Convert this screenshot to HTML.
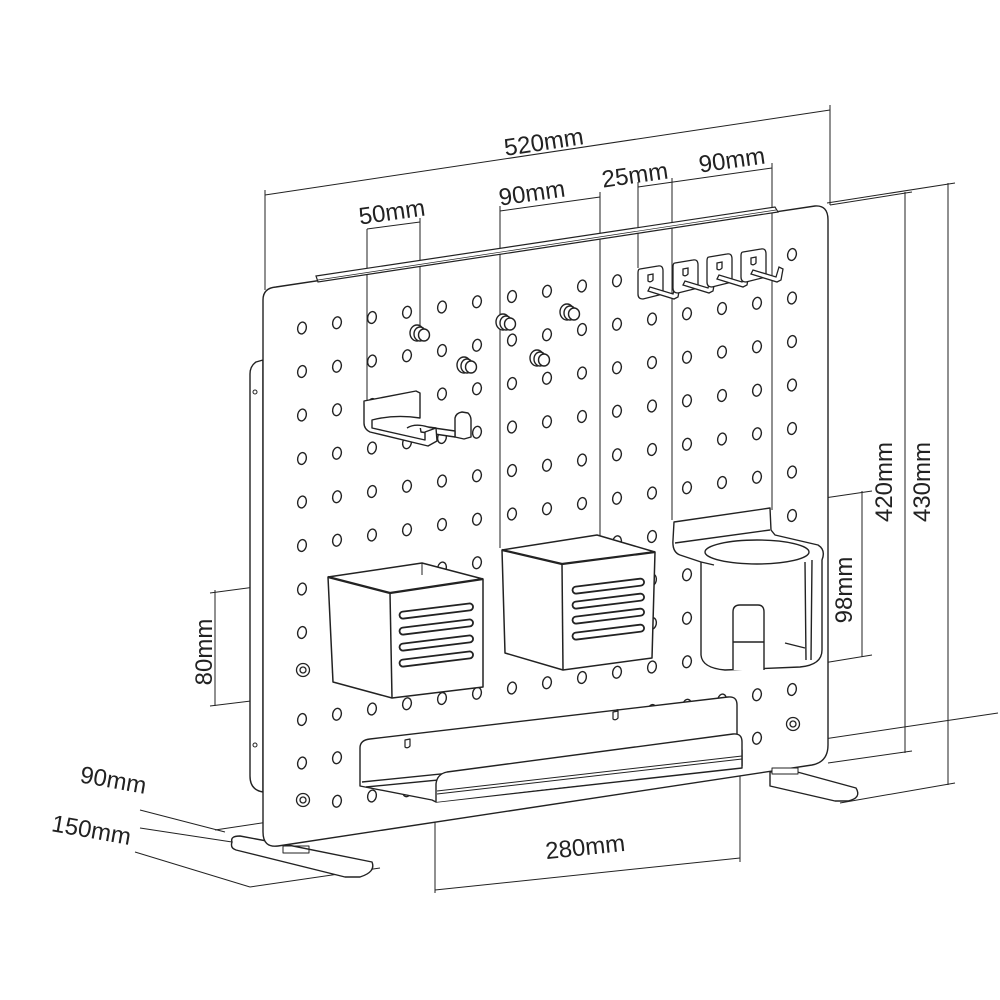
<!DOCTYPE html>
<html><head><meta charset="utf-8">
<style>
html,body{margin:0;padding:0;background:#fff;}
svg{display:block;}
text{font-family:"Liberation Sans",sans-serif;font-size:24px;fill:#222;}
</style></head>
<body>
<svg id="s" width="1000" height="1000" viewBox="0 0 1000 1000" xmlns="http://www.w3.org/2000/svg">
<g fill="none" stroke="#222" stroke-width="1">
<line x1="265" y1="195" x2="830" y2="110"/>
<line x1="265" y1="190" x2="265" y2="290"/>
<line x1="830" y1="105" x2="830" y2="205"/>
<line x1="367" y1="229" x2="420" y2="222"/>
<line x1="500" y1="211" x2="600" y2="197"/>
<line x1="638" y1="187" x2="772" y2="168"/>
<line x1="827" y1="203" x2="955" y2="183"/>
<line x1="948" y1="183" x2="948" y2="785"/>
<line x1="840" y1="803" x2="955" y2="783"/>
<line x1="830" y1="205" x2="912" y2="192"/>
<line x1="905" y1="192" x2="905" y2="753"/>
<line x1="828" y1="763" x2="912" y2="751"/>
<line x1="770" y1="506" x2="872" y2="491"/>
<line x1="862" y1="491" x2="862" y2="657"/>
<line x1="805" y1="666" x2="872" y2="655"/>
<line x1="210" y1="593" x2="330" y2="577"/>
<line x1="215" y1="590" x2="215" y2="706"/>
<line x1="210" y1="706" x2="340" y2="690"/>
<line x1="435" y1="778" x2="435" y2="893"/>
<line x1="740" y1="745" x2="740" y2="862"/>
<line x1="435" y1="890" x2="740" y2="858"/>
<line x1="215" y1="830" x2="998" y2="713"/>
<line x1="140" y1="810" x2="225" y2="832"/>
<line x1="135" y1="852" x2="250" y2="887"/>
<line x1="250" y1="887" x2="380" y2="868"/>
<line x1="140" y1="828" x2="232" y2="842"/>
</g>
<text x="545" y="150" text-anchor="middle" transform="rotate(-8.5 545 150)">520mm</text>
<text x="393" y="220" text-anchor="middle" transform="rotate(-8 393 220)">50mm</text>
<text x="533" y="201" text-anchor="middle" transform="rotate(-8 533 201)">90mm</text>
<text x="636" y="183" text-anchor="middle" transform="rotate(-8 636 183)">25mm</text>
<text x="733" y="168" text-anchor="middle" transform="rotate(-8 733 168)">90mm</text>
<text x="930" y="482" text-anchor="middle" transform="rotate(-90 930 482)">430mm</text>
<text x="892" y="482" text-anchor="middle" transform="rotate(-90 892 482)">420mm</text>
<text x="852" y="590" text-anchor="middle" transform="rotate(-90 852 590)">98mm</text>
<text x="212" y="652" text-anchor="middle" transform="rotate(-90 212 652)">80mm</text>
<text x="586" y="855" text-anchor="middle" transform="rotate(-6 586 855)">280mm</text>
<text x="112" y="788" text-anchor="middle" transform="rotate(10 112 788)">90mm</text>
<text x="90" y="838" text-anchor="middle" transform="rotate(10 90 838)">150mm</text>

<g fill="#fff" stroke="#222" stroke-width="1.4" stroke-linejoin="round">
<path d="M232,842 Q230,836 240,836 L283,844 L372,862 Q376,872 360,877 L345,877 L236,850 Q230,848 232,842 Z"/>
<path d="M770,772 L790,770 L856,788 Q862,798 848,801 L835,801 L770,786 Z"/>
<path d="M263,360 L256,362 Q250,366 250,374 L250,776 Q250,790 263,792 Z"/>
<path d="M263,300 Q263,288 276,287 L815,206 Q828,205 828,220 L828,745 Q828,762 812,765 L278,846 Q263,848 263,832 Z"/>
<rect x="283" y="846" width="26" height="7" stroke-width="1" fill="none"/>
<rect x="772" y="768" width="26" height="6" stroke-width="1" fill="#fff"/>
</g>
<circle cx="255" cy="392" r="2" fill="none" stroke="#222"/>
<circle cx="255" cy="745" r="2" fill="none" stroke="#222"/>
<!-- extension lines over board -->
<g stroke="#222" stroke-width="1">
<line x1="367" y1="229" x2="367" y2="400"/>
<line x1="420" y1="218" x2="420" y2="330"/>
<line x1="500" y1="206" x2="500" y2="548"/>
<line x1="600" y1="192" x2="600" y2="540"/>
<line x1="638" y1="182" x2="638" y2="268"/>
<line x1="672" y1="178" x2="672" y2="520"/>
<line x1="772" y1="163" x2="772" y2="510"/>
</g>
<g stroke="#222" fill="#fff" stroke-width="1.2">
<path d="M316,276 L775,207 L778,212 L318,282 Z"/>
<line x1="318" y1="280" x2="776" y2="210" stroke-width="0.7"/>
</g>
<g id="holes" fill="none" stroke="#222" stroke-width="1.4"></g>
<g fill="#fff" stroke="#222" stroke-width="1.3">
<circle cx="303" cy="670" r="6.5"/><circle cx="303" cy="670" r="3"/>
<circle cx="303" cy="800" r="6.5"/><circle cx="303" cy="800" r="3"/>
<circle cx="793" cy="724" r="6.5"/><circle cx="793" cy="724" r="3"/>
</g>
<g id="pegs" fill="#fff" stroke="#222" stroke-width="1.4"></g>
<g id="hooks" fill="#fff" stroke="#222" stroke-width="1.3"></g>
<g fill="#fff" stroke="#222" stroke-width="1.4" stroke-linejoin="round">
<path d="M455,428 L455,418 Q456,413 462,412 L468,413 Q471,416 471,420 L471,437 L464,439 L455,437 Z"/>
<path d="M420,426 L455,431 L455,437 L421,432 Z"/>
<path d="M364,401 L416,391 L420,393 L420,418 Q395,414 372,420 L372,428 L425,440 L425,432 L436,428 L437,441 L428,446 L370,432 Q364,429 364,423 Z"/>
<path d="M407,428 Q415,423 428,427 L436,428"/>
</g>
<g fill="#fff" stroke="#222" stroke-width="1.5" stroke-linejoin="round">
<path d="M328,577 L422,563 L483,579 L483,687 L392,698 L333,682 Z"/>
<path d="M328,577 L390,593 L483,579" stroke-width="2.2"/>
<line x1="390" y1="593" x2="392" y2="698"/>
<line x1="422" y1="563" x2="422" y2="575" stroke-width="1"/>
<g stroke-width="1.8">
<rect x="400" y="612" width="74" height="7" rx="3.5" transform="rotate(-7 400 619)"/>
<rect x="400" y="628" width="74" height="7" rx="3.5" transform="rotate(-7 400 635)"/>
<rect x="400" y="644" width="74" height="7" rx="3.5" transform="rotate(-7 400 651)"/>
<rect x="400" y="660" width="74" height="7" rx="3.5" transform="rotate(-7 400 667)"/>
</g>
<path d="M502,550 L597,535 L655,552 L652,658 L563,670 L505,653 Z"/>
<path d="M502,550 L562,564 L655,552" stroke-width="2.2"/>
<line x1="562" y1="564" x2="563" y2="670"/>
<g stroke-width="1.8">
<rect x="573" y="587" width="72" height="7" rx="3.5" transform="rotate(-7 573 594)"/>
<rect x="573" y="602" width="72" height="7" rx="3.5" transform="rotate(-7 573 609)"/>
<rect x="573" y="617" width="72" height="7" rx="3.5" transform="rotate(-7 573 624)"/>
<rect x="573" y="633" width="72" height="7" rx="3.5" transform="rotate(-7 573 640)"/>
</g>
</g>
<g fill="#fff" stroke="#222" stroke-width="1.4" stroke-linejoin="round">
<path d="M674,522 L770,508 L771,530 L775,535 L818,545 Q826,550 822,560 L822,650 Q822,665 800,667 L725,670 Q702,668 701,655 L701,562 L680,555 Q672,552 673,540 Z"/>
<ellipse cx="757" cy="552" rx="52" ry="12"/>
<path d="M701,562 L714,565"/>
<path d="M733,670 L733,612 Q733,605 740,605 L758,605 Q764,605 764,612 L764,670"/>
<line x1="733" y1="642" x2="764" y2="642"/>
<path d="M805,562 L806,660 M812,560 L811,660"/>
<path d="M785,643 L805,648"/>
<path d="M675,543 L770,530"/>
</g>
<g fill="#fff" stroke="#222" stroke-width="1.4" stroke-linejoin="round">
<path d="M360,786 L360,748 Q360,740 370,739 L728,697 Q737,696 737,705 L737,748 L742,750 L742,768 L436,802 L432,800 Z"/>
<line x1="362" y1="782" x2="737" y2="744"/>
<line x1="366" y1="787" x2="737" y2="751"/>
<path d="M436,802 L436,784 Q437,774 447,772 L733,734 Q742,733 742,742 L742,766"/>
<line x1="437" y1="791" x2="742" y2="756" stroke-width="1"/>
<line x1="437" y1="794" x2="742" y2="759" stroke-width="1"/>
<path d="M405,740 l5,-1 l0,7 q-2.5,3 -5,1 z" stroke-width="1.2"/>
<path d="M613,712 l5,-1 l0,7 q-2.5,3 -5,1 z" stroke-width="1.2"/>
</g>
</svg>
<script>
var NS="http://www.w3.org/2000/svg";
var H=document.getElementById("holes");
var skip=[[303,670],[303,800],[793,724]];
for(var i=0;i<15;i++){
 var x=302+35*i;
 for(var j=0;j<12;j++){
  var y=328-0.15*(x-302)+43.5*j;
  var bottom=846-0.147*(x-263);
  if(y>bottom-16) continue;
  var sk=false;
  for(var k=0;k<skip.length;k++){if(Math.abs(skip[k][0]-x)<12&&Math.abs(skip[k][1]-y)<16)sk=true;}
  if(sk)continue;
  var e=document.createElementNS(NS,"ellipse");
  e.setAttribute("cx",x);e.setAttribute("cy",y);e.setAttribute("rx",4.3);e.setAttribute("ry",6);
  e.setAttribute("transform","rotate(12 "+x+" "+y+")");
  H.appendChild(e);
 }
}
var P=document.getElementById("pegs");
[[420,333],[467,365],[506,322],[540,358],[570,312]].forEach(function(p){
 [[-3,0,7,8],[0,1,6,7],[4,2,5.5,6]].forEach(function(c){
  var e=document.createElementNS(NS,"ellipse");
  e.setAttribute("cx",p[0]+c[0]);e.setAttribute("cy",p[1]+c[1]);
  e.setAttribute("rx",c[2]);e.setAttribute("ry",c[3]);P.appendChild(e);
 });
});
var K=document.getElementById("hooks");
[[638,266],[673,260],[707,254],[741,249]].forEach(function(h){
 var x=h[0],y=h[1];
 var r=document.createElementNS(NS,"path");
 r.setAttribute("d","M"+(x+2)+","+(y+3)+" L"+(x+20)+","+y+" Q"+(x+25)+","+(y-1)+" "+(x+25)+","+(y+5)+" L"+(x+25)+","+(y+28)+" L"+(x+5)+","+(y+33)+" Q"+x+","+(y+33)+" "+x+","+(y+28)+" L"+x+","+(y+7)+" Q"+x+","+(y+3)+" "+(x+2)+","+(y+3)+" Z");
 K.appendChild(r);
 var s=document.createElementNS(NS,"path");
 s.setAttribute("d","M"+(x+10)+","+(y+9)+" l5,-1 l0,6 q-2.5,3 -5,1 z");K.appendChild(s);
 var rod=document.createElementNS(NS,"path");
 rod.setAttribute("d","M"+(x+10)+","+(y+25)+" L"+(x+36)+","+(y+33)+" L"+(x+40)+","+(y+31)+" L"+(x+42)+","+(y+20)+" L"+(x+38)+","+(y+18)+" L"+(x+35)+","+(y+28)+" L"+(x+12)+","+(y+21)+" Z");
 K.appendChild(rod);
});
</script>
</body></html>
